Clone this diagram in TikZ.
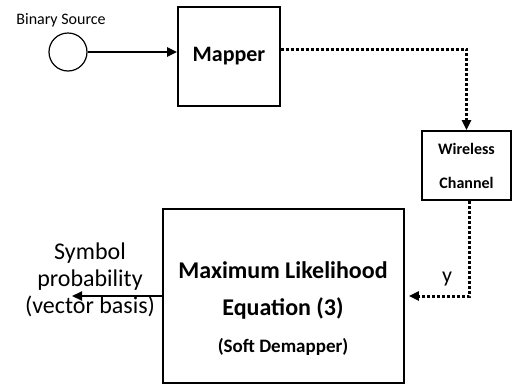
\documentclass[tikz,border=0pt]{standalone}
\usepackage{fontspec}
\setmainfont{Carlito}
\usetikzlibrary{arrows.meta}

\tikzset{
    block/.style={rectangle, draw, line width=1.8pt, font=\bfseries},
    source/.style={circle, draw, line width=1.2pt, minimum size=38pt, inner sep=0pt},
    solid link/.style={line width=2.4pt, -{Triangle[length=10pt, width=9pt]}},
    dotted link/.style={line width=3pt, dash pattern=on 3pt off 2pt, -{Triangle[length=10pt, width=9pt]}}
}

\begin{document}
\begin{tikzpicture}[x=1pt, y=-1pt]

        \useasboundingbox (0,0) rectangle (516,386);

        % Vertices
        \node[source](src) at (68,52){};
        \node[font=\fontsize{16}{18}\selectfont](srcLabel) at (61,20){Binary Source};
        \node[block, minimum width=102pt, minimum height=99pt, font=\fontsize{22}{24}\selectfont\bfseries](mapper) at (229,56.5){Mapper};
        \node[block, minimum width=89pt, minimum height=69pt, align=center, font=\fontsize{16}{34}\selectfont\bfseries](channel) at (466.5,165.5){Wireless\\Channel};
        \node[block, minimum width=241pt, minimum height=174pt](demapper) at (283.5,296){};
        \node[align=center, font=\fontsize{24}{37}\selectfont\bfseries](demapperText) at (283,309){Maximum Likelihood\\Equation (3)\\{\fontsize{19}{36}\selectfont (Soft Demapper)}};
        \node[align=center, font=\fontsize{24}{27}\selectfont](outLabel) at (90,280){Symbol\\probability\\(vector basis)};
        \node[font=\fontsize{22}{24}\selectfont](yLabel) at (447,279){y};
        \coordinate (out) at (72,296);
        % Edges
        \draw[solid link](src.east) -- (src.east -| mapper.west);
        \draw[dotted link]([yshift=7.5pt]mapper.east) -| (channel.north);
        \draw[dotted link, shorten >=4pt]([xshift=3pt]channel.south) |- (demapper.east);
        \draw[solid link, line width=2pt](demapper.west) -- (out);

\end{tikzpicture}
\end{document}
